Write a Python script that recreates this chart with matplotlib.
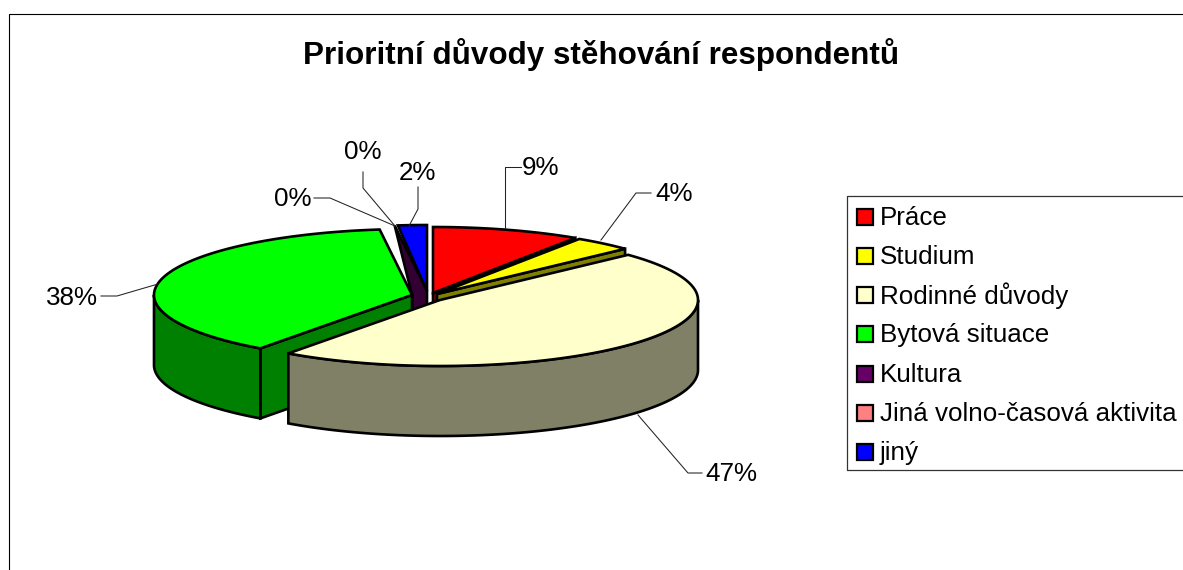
import numpy as np
import matplotlib
matplotlib.use("Agg")
import matplotlib.pyplot as plt
from matplotlib.patches import Polygon, Rectangle

plt.rcParams['font.family'] = ['Liberation Sans', 'DejaVu Sans']

categories = ["Práce", "Studium", "Rodinné důvody", "Bytová situace", "Kultura",
              "Jiná volno-časová aktivita", "jiný"]
values = [9.3, 3.7, 47.0, 38.0, 0.2, 0.0, 1.8]
legend_colors = ["#FF0000", "#FFFF00", "#FFFFCC", "#00FF00", "#660066", "#FF8080", "#0000FF"]
wall_colors = ["#800000", "#808000", "#808066", "#008000", "#330033", "#804040", "#000080"]
title = "Prioritní důvody stěhování respondentů"

# layout (pixel space of the figure)
W, H = 1183, 570
A, B, DEPTH = 258, 66, 70
centers = [(433, 293), (437, 294), (440, 300), (412, 295), (427, 291), (427, 291), (427, 291)]
label_pos = [(541, 168), (674, 194), (731, 474), (72, 298), (293, 199), (363, 152), (417, 173)]
leaders = [[(521, 167), (505, 167), (505, 228)],
           [(651, 193), (636, 193), (601, 240)],
           [(702, 473), (688, 473), (638, 415)],
           [(101, 296), (117, 296), (158, 284)],
           [(314, 198), (330, 198), (395, 226)],
           [(363, 172), (363, 188), (395, 226)],
           [(418, 187), (418, 209), (409, 226)]]
LW = 1.9

fig = plt.figure(figsize=(W / 100, H / 100), dpi=100)
ax = fig.add_axes([0, 0, 1, 1])
ax.set_xlim(0, W)
ax.set_ylim(H, 0)
ax.axis("off")

# chart frame: right and bottom edges fall outside the picture
ax.plot([9.5, 9.5, W], [H, 13.5, 13.5], color="black", lw=0.8, zorder=1)

total = sum(values)
edges = np.cumsum([0] + values) / total * 360


def rim(c, deg, drop=0.0):
    t = np.radians(deg)
    return np.column_stack([c[0] + A * np.sin(t), c[1] - B * np.cos(t) + drop])


def poly(pts, color, z):
    ax.add_patch(Polygon(pts, closed=True, facecolor=color, edgecolor="black",
                         lw=LW, joinstyle="miter", zorder=z))


def arc(a0, a1):
    return np.linspace(a0, a1, 240)


def slice_parts(i, z, radial_wall=True):
    c = centers[i]
    a0, a1 = edges[i], edges[i + 1]
    c_arr = np.array([c], dtype=float)
    down = np.array([[c[0], c[1] + DEPTH]], dtype=float)
    # radial wall facing the viewer
    if radial_wall and a0 >= 180:
        r = rim(c, a0)
        poly(np.vstack([r, c_arr, down, rim(c, a0, DEPTH)]), wall_colors[i], z)
    elif radial_wall and a1 <= 180:
        r = rim(c, a1)
        poly(np.vstack([r, c_arr, down, rim(c, a1, DEPTH)]), wall_colors[i], z)
    # outer wall
    lo, hi = max(a0, 90), min(a1, 270)
    if lo < hi:
        t = arc(lo, hi)
        poly(np.vstack([rim(c, t), rim(c, t[::-1], DEPTH)]), wall_colors[i], z + 0.1)
    poly(np.vstack([c_arr, rim(c, arc(a0, a1))]), legend_colors[i], z + 0.2)


# thin Kultura sliver: spans from its neighbour's apex to the rim, the rest hidden in front
kc, gc = centers[4], centers[3]
ax.add_patch(Polygon(np.vstack([rim(kc, edges[4]), [kc], [kc[0], kc[1] + 20],
                                [gc[0], gc[1] + 20], [gc]]),
                     closed=True, facecolor=wall_colors[4], edgecolor="black",
                     lw=LW, joinstyle="miter", zorder=2))
slice_parts(6, 3, radial_wall=False)
slice_parts(3, 4)
slice_parts(0, 5)
slice_parts(1, 6)
slice_parts(2, 7)

# leaders and value labels
for i, (pts, pos) in enumerate(zip(leaders, label_pos)):
    xs, ys = zip(*pts)
    ax.plot(xs, ys, color="#222222", lw=0.75, zorder=9)
    ax.text(pos[0], pos[1], f"{round(values[i])}%", ha="center", va="center",
            fontsize=18.7, color="black", zorder=10)

ax.text(601, 55, title, ha="center", va="center", fontsize=22.6, fontweight="bold")

# legend
ax.plot([W, 847.5, 847.5, W], [195.5, 195.5, 469.5, 469.5], color="#333333", lw=0.9, zorder=9)
row_y = [218, 257, 296, 335, 375, 414, 453]
box_y = [217, 256, 295, 334, 374, 413, 452]
for name, col, y, by in zip(categories, legend_colors, row_y, box_y):
    ax.add_patch(Rectangle((857, by - 8), 16, 16, facecolor=col, edgecolor="black",
                           lw=1.6, zorder=10))
    ax.text(880, y, name, ha="left", va="center", fontsize=18.7, zorder=10)

fig.savefig("out.png", dpi=100)
